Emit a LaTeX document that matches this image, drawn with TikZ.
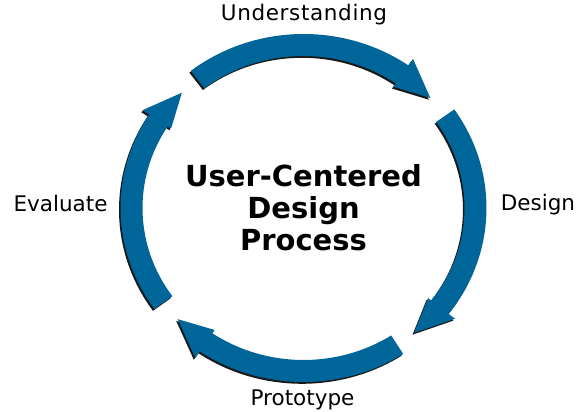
\documentclass[tikz,border=0pt]{standalone}
\usepackage{fontspec}
\setmainfont{DejaVu Sans}
\definecolor{ucdblue}{RGB}{0,101,153}
\tikzset{
  cyclelabel/.style={font=\fontsize{21.5}{26}\selectfont, text=black, inner sep=0pt, anchor=base},
  centertitle/.style={font=\fontsize{29}{32}\selectfont\bfseries, align=center, inner sep=0pt},
  arrowbody/.style={fill=ucdblue},
  arrowshadow/.style={fill=black, opacity=0.9}
}
\begin{document}
\begin{tikzpicture}[x=1pt,y=1pt]
\useasboundingbox (0,0) rectangle (579,412);
\begin{scope}[shift={(303.5,204)}]
\foreach \a/\b in {128/42.5, 34.5/-50, -57/-137, 215.5/135} {
  \pgfmathsetmacro\c{\b+12.5}
  \fill[arrowshadow, xshift=-1.5pt, yshift=-1.8pt]
    ({183*cos(\a)},{174*sin(\a)}) arc[start angle=\a, end angle=\c, x radius=183, y radius=174]
    -- ({191*cos(\c)},{182*sin(\c)})
    -- ({172*cos(\b)},{163*sin(\b)})
    -- ({157*cos(\c)},{148*sin(\c)})
    -- ({161*cos(\c)},{152*sin(\c)})
    arc[start angle=\c, end angle=\a, x radius=161, y radius=152] -- cycle;
  \fill[arrowbody]
    ({183*cos(\a)},{174*sin(\a)}) arc[start angle=\a, end angle=\c, x radius=183, y radius=174]
    -- ({191*cos(\c)},{182*sin(\c)})
    -- ({172*cos(\b)},{163*sin(\b)})
    -- ({157*cos(\c)},{148*sin(\c)})
    -- ({161*cos(\c)},{152*sin(\c)})
    arc[start angle=\c, end angle=\a, x radius=161, y radius=152] -- cycle;
}
\end{scope}
\node[centertitle] (title) at (303.5,204) {User-Centered\\Design\\Process};
\node[cyclelabel] (understanding) at (304,391) {\addfontfeature{LetterSpace=3}Understanding};
\node[cyclelabel] (design) at (538,201) {Design};
\node[cyclelabel] (prototype) at (302.5,6) {Prototype};
\node[cyclelabel] (evaluate) at (60.5,200) {Evaluate};
\end{tikzpicture}
\end{document}
